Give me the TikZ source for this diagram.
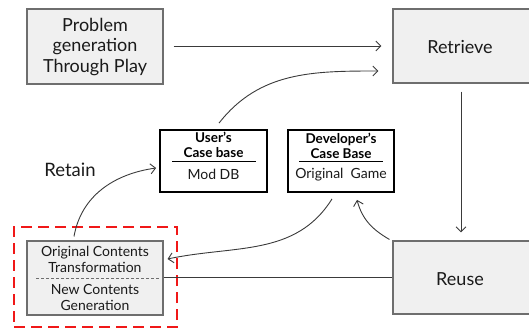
\documentclass[tikz,border=0pt]{standalone}
\usepackage{fontspec}
\setmainfont{Lato}
\usetikzlibrary{arrows.meta}
\definecolor{boxfill}{HTML}{F0F0F0}
\definecolor{boxline}{HTML}{6E6E6E}
\definecolor{inkline}{HTML}{3A3A3A}
\definecolor{txt}{HTML}{1A1A1A}
\definecolor{alert}{HTML}{F01818}
\tikzset{
  stagebox/.style={draw=boxline, line width=1.1pt, fill=boxfill, inner sep=0pt, text=txt},
  basebox/.style={draw=black, line width=1.8pt, fill=white, inner sep=0pt},
  link/.style={draw=inkline, line width=0.9pt},
  arrowlink/.style={link, -{Straight Barb[length=5pt,width=10pt,line width=0.9pt]}},
  bigtext/.style={font=\fontsize{18}{20.5}\selectfont, text=txt, align=center, inner sep=0pt},
  smalltext/.style={font=\fontsize{14}{16}\selectfont, text=txt, align=center, inner sep=0pt},
  headtext/.style={font=\bfseries\fontsize{13.5}{15.5}\selectfont, text=black, align=center, inner sep=0pt},
}
\begin{document}
\begin{tikzpicture}[x=1pt, y=-1pt]
  \useasboundingbox (0,0) rectangle (529,329);

  % main stages
  \node[stagebox, minimum width=136pt, minimum height=75pt] (problem) at (95,46.5) {};
  \node[bigtext] (problemtxt) at (95,47) {Problem\\generation\\Through Play};
  \node[stagebox, minimum width=145pt, minimum height=74pt] (retrieve) at (465.5,46) {};
  \node[bigtext] (retrievetxt) at (460,47) {Retrieve};
  \node[stagebox, minimum width=145pt, minimum height=73pt] (reuse) at (465.5,277.5) {};
  \node[bigtext] (reusetxt) at (460,279) {Reuse};

  % retained content block with highlight frame
  \node[draw=alert, line width=2.8pt, dash pattern=on 11pt off 6pt, minimum width=163pt, minimum height=100pt, inner sep=0pt] (frame) at (95.5,277) {};
  \node[stagebox, minimum width=136pt, minimum height=74pt] (inner) at (95,278) {};
  \node[smalltext] (innertop) at (95,259) {Original Contents\\Transformation};
  \node[smalltext] (innerbot) at (95,297) {New Contents\\Generation};
  \coordinate (sepl) at (36,278);
  \coordinate (sepr) at (160,278);
  \draw[boxline, line width=0.7pt, dash pattern=on 3pt off 2pt] (sepl) -- (sepr);

  % case bases
  \node[basebox, minimum width=107pt, minimum height=62pt] (user) at (213.5,161) {};
  \node[headtext] (usertitle) at (213.5,145) {User's\\Case base};
  \coordinate (userrl) at (172,161);
  \coordinate (userrr) at (256,161);
  \draw[black, line width=0.8pt] (userrl) -- (userrr);
  \node[smalltext] (usertxt) at (213.5,174.5) {Mod DB};

  \node[basebox, minimum width=106pt, minimum height=62pt] (dev) at (341,161) {};
  \node[headtext] (devtitle) at (341,146) {Developer's\\Case Base};
  \coordinate (devrl) at (299,161);
  \coordinate (devrr) at (383,161);
  \draw[black, line width=0.8pt] (devrl) -- (devrr);
  \node[smalltext] (devtxt) at (341,175) {Original~~Game};

  \node[font=\fontsize{18.5}{20}\selectfont, text=txt, inner sep=0pt] (retain) at (70,170) {Retain};

  % connectors
  \draw[arrowlink, shorten <=10pt, shorten >=11pt] (problem.east |- retrieve.west) -- (retrieve.west);
  \draw[arrowlink] ([xshift=5.5pt,yshift=6pt]user.north) to[out=52,in=180] ([xshift=-14pt,yshift=-25pt]retrieve.west);
  \draw[arrowlink, shorten <=8pt, shorten >=8pt] (retrieve.south -| 461,0) -- (reuse.north -| 461,0);
  \draw[link] (reuse.west) -- (reuse.west -| inner.east);
  \draw[arrowlink] ([xshift=-9pt,yshift=-6pt]dev.south) to[out=238,in=12] ([xshift=4pt,yshift=19pt]inner.east);
  \draw[arrowlink] ([xshift=-3pt,yshift=1pt]reuse.north west) to[out=150,in=-75] ([xshift=16pt,yshift=-7pt]dev.south);
  \draw[arrowlink] ([xshift=-21pt,yshift=4pt]inner.north) to[out=80,in=188] ([xshift=-3pt,yshift=-7pt]user.west);
\end{tikzpicture}
\end{document}
